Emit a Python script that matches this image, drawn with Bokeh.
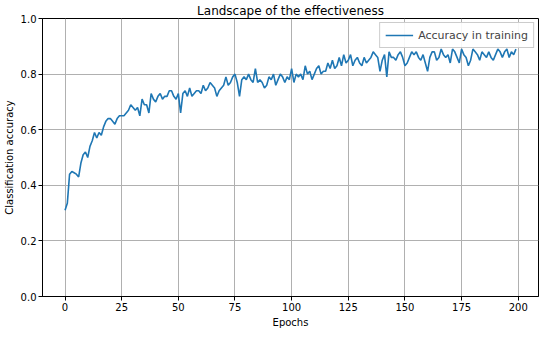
from bokeh.plotting import figure
from bokeh.models import Range1d, FixedTicker, Legend, LegendItem
from bokeh.embed import file_html
from bokeh.resources import INLINE

epochs = list(range(200))
accuracy = [
    0.31, 0.335, 0.44, 0.45, 0.445, 0.44, 0.43, 0.48, 0.51, 0.52,
    0.50, 0.54, 0.56, 0.59, 0.57, 0.59, 0.58, 0.61, 0.63, 0.64,
    0.64, 0.63, 0.62, 0.64, 0.65, 0.65, 0.65, 0.66, 0.67, 0.69,
    0.68, 0.67, 0.68, 0.65, 0.71, 0.69, 0.69, 0.66, 0.73, 0.71,
    0.70, 0.72, 0.73, 0.71, 0.72, 0.72, 0.74, 0.74, 0.72, 0.71,
    0.73, 0.66, 0.73, 0.74, 0.72, 0.75, 0.72, 0.73, 0.74, 0.74,
    0.73, 0.76, 0.74, 0.75, 0.77, 0.76, 0.75, 0.72, 0.74, 0.75,
    0.76, 0.79, 0.76, 0.77, 0.79, 0.80, 0.77, 0.72, 0.78, 0.79,
    0.78, 0.80, 0.78, 0.77, 0.82, 0.77, 0.78, 0.77, 0.75, 0.76,
    0.79, 0.78, 0.80, 0.76, 0.78, 0.80, 0.79, 0.77, 0.79, 0.78,
    0.82, 0.77, 0.80, 0.79, 0.80, 0.78, 0.83, 0.80, 0.81, 0.78,
    0.80, 0.82, 0.83, 0.80, 0.81, 0.81, 0.84, 0.82, 0.85, 0.82,
    0.83, 0.86, 0.83, 0.87, 0.84, 0.85, 0.87, 0.83, 0.85, 0.86,
    0.84, 0.83, 0.86, 0.84, 0.85, 0.86, 0.88, 0.87, 0.86, 0.81,
    0.85, 0.87, 0.79, 0.88, 0.86, 0.86, 0.85, 0.87, 0.88, 0.86,
    0.83, 0.84, 0.86, 0.88, 0.87, 0.88, 0.86, 0.85, 0.87, 0.84,
    0.81, 0.86, 0.88, 0.88, 0.85, 0.86, 0.89, 0.87, 0.86, 0.87,
    0.84, 0.89, 0.88, 0.86, 0.84, 0.89, 0.87, 0.86, 0.83, 0.85,
    0.89, 0.88, 0.87, 0.85, 0.88, 0.87, 0.86, 0.88, 0.86, 0.85,
    0.87, 0.89, 0.88, 0.86, 0.88, 0.89, 0.86, 0.88, 0.87, 0.89,
]
x_ticks = [0, 25, 50, 75, 100, 125, 150, 175, 200]
y_ticks = [0.0, 0.2, 0.4, 0.6, 0.8, 1.0]

FONT = "DejaVu Sans"

p = figure(frame_width=496, frame_height=278, output_backend="svg", toolbar_location=None,
           x_range=Range1d(-9.95, 208.95), y_range=Range1d(0, 1),
           title="Landscape of the effectiveness",
           min_border_left=0, min_border_right=2, min_border_top=0, min_border_bottom=0)
p.title.align = "center"
p.title.text_font = FONT
p.title.text_font_size = "12px"
p.title.text_font_style = "normal"
p.title.text_color = "#000000"
p.title.standoff = 2

r = p.line(epochs, accuracy, line_color="#1f77b4", line_width=1.6)

p.xaxis.ticker = FixedTicker(ticks=x_ticks)
p.yaxis.ticker = FixedTicker(ticks=y_ticks)
p.yaxis.major_label_overrides = {t: f"{t:.1f}" for t in y_ticks}
p.xaxis.axis_label = "Epochs"
p.yaxis.axis_label = "Classification accuracy"
for ax in (p.xaxis[0], p.yaxis[0]):
    ax.axis_label_text_font = FONT
    ax.axis_label_text_font_size = "10px"
    ax.axis_label_text_font_style = "normal"
    ax.axis_label_standoff = 3
    ax.major_label_text_font = FONT
    ax.major_label_text_font_size = "10px"
    ax.major_label_standoff = 2
    ax.major_tick_out = 4
    ax.major_tick_in = 0
    ax.minor_tick_out = 0
    ax.minor_tick_in = 0
    ax.axis_line_color = "#000000"
    ax.major_tick_line_color = "#000000"
    ax.major_label_text_color = "#000000"
    ax.axis_label_text_color = "#000000"

p.grid.grid_line_color = "#b0b0b0"
p.grid.grid_line_width = 1
p.outline_line_color = "#000000"
p.outline_line_alpha = 1
p.background_fill_color = "white"
p.border_fill_color = "white"

legend = Legend(items=[LegendItem(label="Accuracy in training", renderers=[r])],
                location="top_right")
legend.label_text_font = FONT
legend.label_text_font_size = "11px"
legend.glyph_width = 28
legend.glyph_height = 14
legend.label_height = 14
legend.spacing = 0
legend.padding = 5
legend.margin = 4
legend.border_line_color = "#cccccc"
legend.border_line_alpha = 1
legend.background_fill_alpha = 0.9
p.add_layout(legend)

open("out.html", "w").write(file_html(p, INLINE))
